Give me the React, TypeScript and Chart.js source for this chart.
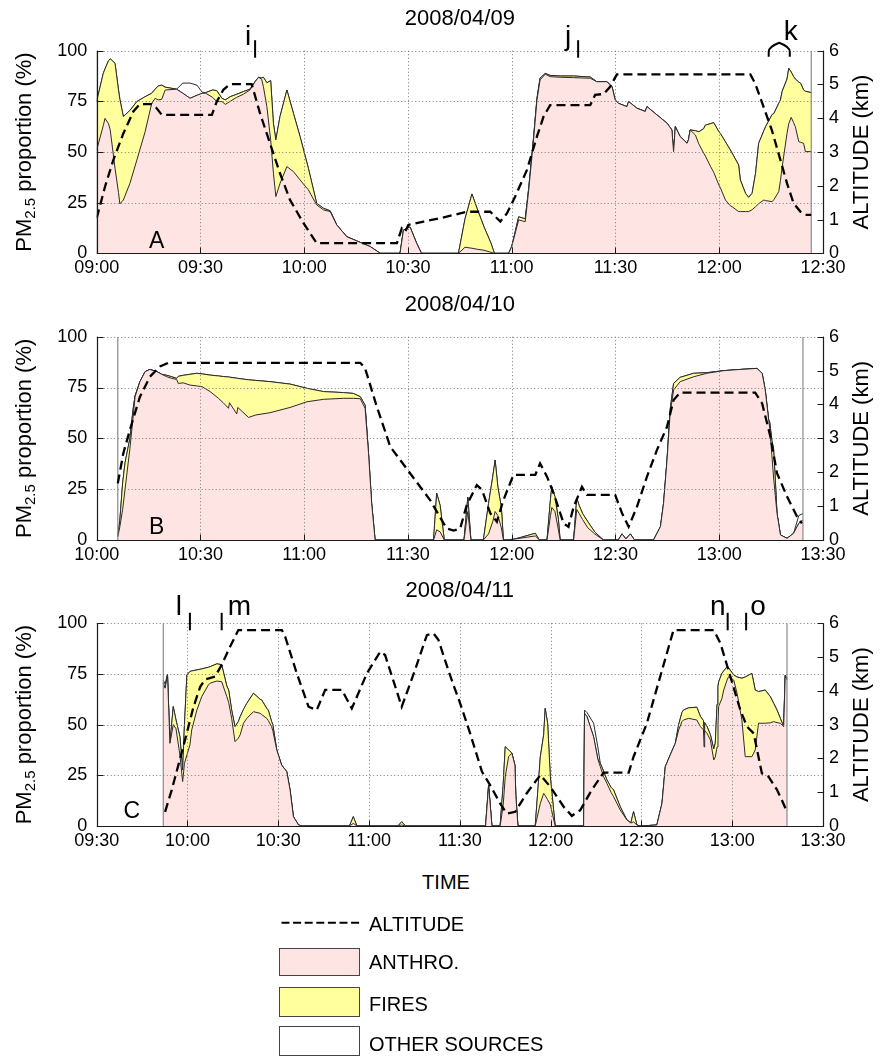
import React, { useEffect, useRef } from "react";
import { Chart, registerables } from "chart.js";

Chart.register(...registerables);

const FONT = "'Liberation Sans', Arial, Helvetica, sans-serif";
const PINK = "#FFE4E4";
const YELLOW = "#FFFF9E";
const EDGE = "#2b2b2b";

// ================= Panel A : 2008/04/09 (minutes after 09:00) =================
const dateA = "2008/04/09";
const timeA = [
  0, 1.9, 2.4, 3.4, 3.9, 5.3, 6.3, 6.7, 7.7, 9.6,
  11.6, 14, 15.9, 16.9, 17.8, 18.8, 19.8, 23.1, 24.9, 27,
  29, 30.5, 31.5, 33.5, 34.7, 36.2, 37.2, 38.6, 40.5, 42.4,
  44.3, 45.8, 46.8, 47.7, 48.2, 49.2, 50.3, 51.1, 51.8, 53,
  55, 56.9, 58.8, 61.2, 63.6, 65.6, 67.5, 69.4, 72.3, 75.2,
  79.1, 82, 87.7, 88.7, 90.6, 92.5, 93.9, 104.6, 106.5, 108.5,
  110, 112, 114, 115, 119.1, 120, 122, 123.9, 124.9, 126.3,
  127.3, 128.2, 129.7, 131.1, 134, 137.9, 142.7, 143.7, 144.6, 147.5,
  149, 149.9, 150.9, 153.3, 153.8, 156.2, 158.6, 159.1, 162, 164.9,
  166.3, 166.8, 167.3, 168.7, 170.7, 171.1, 171.6, 173.1, 174.1, 175.5,
  176, 177.5, 178.4, 179.9, 180.3, 181.8, 183.2, 183.7, 185.6, 186.1,
  187.6, 188.5, 189.5, 190.5, 191.4, 192.9, 193.4, 195.3, 195.8, 197.2,
  197.7, 198.2, 199.6, 200.1, 200.8, 201.5, 202, 203, 203.5, 204.4,
  204.9, 206.6,
];
const anthroA = [
  51, 63, 66.6, 64, 61, 42, 30, 24.4, 26.3, 34.5,
  46, 60, 74, 76.5, 75.7, 76, 80.6, 81, 79, 76.5,
  78, 79, 79, 77, 74.9, 74.9, 73.5, 75, 77, 78.5,
  80.6, 84.7, 86.9, 85.9, 82.3, 72.4, 56, 39.5, 28, 34.5,
  42.8, 40.3, 36.2, 31.3, 23.9, 21.4, 20.6, 14, 8.2, 6.1,
  3.3, 0, 0, 11.5, 13, 5, 0, 0, 3, 2.5,
  2, 1.5, 0.5, 0, 0, 3.3, 16.5, 15.6, 31, 56,
  75.7, 85.6, 88.4, 87.2, 86.9, 86.7, 86.4, 85.5, 84.7, 84.7,
  82.3, 75.7, 74, 72.4, 74.9, 71.6, 70, 72.4, 68.3, 64.2,
  60.9, 50.2, 62.5, 57.6, 54.3, 56, 60.9, 58.4, 54, 49.4,
  48, 42.8, 40, 33.7, 32.5, 26.3, 23.5, 23, 20.6, 20.6,
  20.6, 20.6, 21.5, 23, 24.5, 26.3, 26, 25.5, 26.5, 30.4,
  36, 42.8, 59.2, 64, 67.1, 64.5, 62.5, 55.1, 54.8, 54.3,
  50.2, 50.2,
];
const firesA = [
  24, 25.8, 24.4, 31, 35, 51.8, 50.6, 51.6, 41.2, 36,
  28.9, 17.3, 5, 4.5, 6.9, 7, 1.4, 0, 0, 0,
  0, 0, 0.3, 3.6, 5.4, 1.6, 2.2, 2.3, 1.5, 1.3,
  0.4, 0, 0, 0.6, 4.6, 11.8, 29.2, 24.5, 28, 33,
  37.8, 28.7, 21.4, 10.7, 0.8, 0.8, 0.4, 0, 0, 0,
  0, 0, 0, 0, 0, 0, 0, 0, 14, 26.8,
  20, 11.5, 4.5, 0, 0, 0, 1.5, 1.4, 1, 1,
  0.8, 0.9, 0.4, 0.6, 0.6, 0.8, 0.6, 0.3, 0, 0,
  0, 0, 0, 0, 0, 0, 0, 0, 0, 0,
  0, 0, 0, 0, 0, 0, 0, 2.1, 6, 12.1,
  15.3, 21.2, 24.5, 26.3, 26.7, 28.7, 27.5, 26.5, 23, 15.6,
  9, 7, 8.1, 16.5, 29.8, 34.2, 36.5, 43, 42.5, 43.6,
  39.7, 37.2, 26.8, 27.3, 22.4, 22.7, 23.5, 29.4, 29.2, 26.3,
  29.8, 29.1,
];
const otherA = [
  0, 0, 0, 0, 0, 0, 0, 0, 0, 0,
  0, 0, 0, 0, 0, 0, 0, 0, 5, 7.5,
  5, 0.5, 0, 0, 0, 0, 0, 0, 0, 0,
  0, 0, 0, 0, 0, 0, 0, 0, 0, 0,
  0, 0, 0, 0, 0, 0, 0, 0, 0, 0,
  0, 0, 0, 0, 0, 0, 0, 0, 0, 0,
  0, 0, 0, 0, 0, 0, 0, 0, 0, 0,
  0, 0, 0, 0, 0, 0, 0, 0, 0, 0,
  0, 0, 0, 0, 0, 0, 0, 0, 0, 0,
  0, 0, 0, 0, 0, 0, 0, 0, 0, 0,
  0, 0, 0, 0, 0, 0, 0, 0, 0, 0,
  0, 0, 0, 0, 0, 0, 0, 0, 0, 0,
  0, 0, 0, 0, 0, 0, 0, 0, 0, 0,
  0, 0,
];
const altTimeA = [
  0, 2.4, 4.8, 7.7, 10.6, 12.5, 15.9, 17.4, 18.8, 33.3,
  34.7, 36.6, 38.6, 44.8, 45.3, 47.2, 50.1, 53, 55.9, 59.8,
  63.6, 86.8, 88.2, 89.2, 90.1, 94.5, 99.3, 105.1, 107, 113.8,
  116.7, 118.6, 121, 124.4, 127.3, 129.2, 131.1, 142.7, 144.1, 146.6,
  148.5, 150.4, 189, 190.4, 192.8, 195.2, 197.7, 199.6, 201.5, 203.5,
  204.9, 206.6,
];
const altKmA = [
  1.04, 1.97, 2.76, 3.55, 4.2, 4.42, 4.42, 4.29, 4.1, 4.1,
  4.49, 4.84, 5.01, 5.01, 4.84, 4.15, 3.26, 2.37, 1.58, 0.89,
  0.3, 0.3, 0.74, 0.64, 0.84, 0.94, 1.04, 1.18, 1.23, 1.23,
  0.94, 1.18, 1.68, 2.47, 3.46, 4.05, 4.39, 4.39, 4.69, 4.72,
  4.94, 5.3, 5.3, 5.03, 4.34, 3.65, 2.76, 2.07, 1.48, 1.23,
  1.14, 1.14,
];

// ================= Panel B : 2008/04/10 (minutes after 10:00) =================
const dateB = "2008/04/10";
const timeB = [
  6.1, 6.7, 7.5, 8.2, 9.6, 10.5, 11.1, 12.5, 14, 15.4,
  17.4, 18.8, 20.3, 21.7, 23.1, 23.6, 25, 27, 28.9, 30.5,
  32.8, 35.2, 36.6, 38.1, 38.4, 40.5, 40.8, 43.9, 46, 50.1,
  55.9, 60.8, 65.6, 71.4, 74.2, 76.2, 77.6, 78.6, 79.5, 80.5,
  97.4, 98.3, 99.3, 100.5, 106.2, 107.3, 108.2, 111.8, 113.3, 114.5,
  115.2, 116, 117, 117.6, 118.6, 121, 126.8, 128, 130.2, 131.2,
  131.6, 132.5, 133.5, 134, 137.9, 138.8, 139.5, 140.5, 142, 144,
  146.5, 150.8, 151.9, 153, 154.3, 155.5, 161, 163, 163.9, 164.9,
  165.8, 166.8, 168.7, 172.6, 176.4, 181.3, 186.1, 190.9, 192.4, 193.3,
  194.3, 194.6, 195.2, 195.7, 196.2, 196.7, 197.7, 199.6, 201.5, 203,
  204.2,
];
const anthroB = [
  1.6, 6.6, 15, 25, 45, 60, 70.5, 77.9, 82.8, 83.9,
  82.8, 81.5, 80.3, 79.5, 79, 77, 77.3, 76.2, 75.8, 75.4,
  73, 69.7, 67.5, 64.8, 67.5, 62, 65.2, 60.3, 61.5, 62.6,
  65.2, 68, 69.2, 69.7, 69.7, 69.5, 64.8, 42.6, 18, 0,
  0, 5, 4, 0, 0, 14, 0, 0, 3, 9,
  14, 12, 6, 0, 0, 0.5, 2, 0, 0, 12,
  16, 14, 5, 0, 0, 15, 13, 10, 6, 3,
  0, 0, 3, 0.5, 3, 0, 0, 6.6, 18, 39.3,
  62.3, 73.8, 77.9, 80.3, 82, 83.3, 83.9, 84.4, 82, 73.8,
  59, 55, 42, 31, 22, 13.1, 2.5, 0.8, 3.3, 8.2,
  9.8,
];
const firesB = [
  0, 3.2, 13, 13, 5, 4, 0.5, 0, 0, 0,
  0, 0, 0.7, 0.8, 0.5, 3.5, 3.7, 5.3, 6.2, 6.3,
  8.1, 11, 12.9, 15.4, 12.6, 17.6, 14.3, 18.5, 17, 15.3,
  11.5, 6.6, 3.8, 2.8, 2.4, 1, 1.6, 0, 0, 0,
  0, 18, 13, 0, 0, 7, 0, 0, 15, 22,
  25.3, 14, 10, 0, 0, 0, 1.3, 0, 0, 8,
  10.2, 7.3, 5, 0, 0, 5.5, 4, 3, 3, 1,
  0, 0, 0, 0, 0, 0, 0, 0, 0, 0,
  1.7, 3.2, 2.1, 1.7, 0.3, 0, 0, 0, 0, 0,
  0, 3, 7, 14, 8, 0, 0, 0, 0, 0,
  0,
];
const otherB = [
  0, 0, 0, 0, 0, 0, 0, 0, 0, 0,
  0, 0, 0, 0, 0, 0, 0, 0, 0, 0,
  0, 0, 0, 0, 0, 0, 0, 0, 0, 0,
  0, 0, 0, 0, 0, 0, 0, 0, 0, 0,
  0, 0, 0, 0, 0, 0, 0, 0, 0, 0,
  0, 0, 0, 0, 0, 0, 0, 0, 0, 0,
  0, 0, 0, 0, 0, 0, 0, 0, 0, 0,
  0, 0, 0, 0, 0, 0, 0, 0, 0, 0,
  0, 0, 0, 0, 0, 0, 0, 0, 0, 0,
  0, 0, 0, 0, 0, 0, 0, 0, 0, 3.8,
  3.2,
];
const altTimeB = [
  6.1, 7.7, 9.6, 12.5, 15.4, 18.3, 20.7, 76.2, 77.6, 81,
  84.9, 90.6, 96.4, 100.3, 101.2, 103.2, 105.1, 107, 109.9, 111.4,
  113.8, 115.7, 117.6, 120.5, 126.8, 128.2, 130.2, 132.1, 135, 136.4,
  137.9, 140.3, 141.7, 149.9, 151.9, 153.8, 156.2, 159.1, 162, 164.9,
  166.8, 168.7, 190.4, 192.4, 194.8, 196.7, 199.6, 202.5, 203.9,
];
const altKmB = [
  1.67, 2.56, 3.25, 4.23, 4.82, 5.12, 5.23, 5.23, 5.07, 3.93,
  2.75, 1.97, 1.18, 0.49, 0.34, 0.28, 0.34, 1.03, 1.62, 1.48,
  0.79, 0.54, 1.18, 1.92, 1.92, 2.26, 1.87, 1.38, 0.49, 0.39,
  0.98, 1.57, 1.33, 1.33, 0.79, 0.39, 0.98, 1.87, 2.66, 3.34,
  4.13, 4.35, 4.35, 4.03, 3.05, 1.97, 1.28, 0.69, 0.49,
];

// ================= Panel C : 2008/04/11 (minutes after 09:30) =================
const dateC = "2008/04/11";
const timeC = [
  22, 22.6, 23.4, 24.2, 25.3, 26.2, 27.5, 28.4, 29, 29.8,
  30.8, 31.4, 33.1, 34.7, 36.9, 37.5, 39.7, 41.3, 43, 43.6,
  44.6, 45.7, 46.8, 47.4, 48.5, 49.6, 51.8, 54, 54.5, 56.2,
  56.7, 57.8, 58.2, 59.5, 61.1, 62.8, 63.9, 65, 66.7, 68,
  83.5, 84.8, 86, 99.5, 100.8, 102, 128.5, 129.5, 130.6, 133.3,
  134.3, 135, 136.1, 137.2, 138.2, 138.5, 139.2, 144.9, 146.6, 147.7,
  148.2, 149, 149.9, 151.5, 160.9, 161.2, 162, 164.2, 165.6, 166.4,
  167.5, 168.6, 170, 170.8, 173, 175.2, 176.5, 177.4, 178.5, 179.6,
  185.1, 186.8, 187.9, 189.5, 191.2, 192.3, 193.4, 193.9, 195.6, 198.3,
  199.5, 200.5, 200.7, 200.9, 201.7, 202.8, 203.9, 204.4, 205, 205.3,
  205.5, 206.6, 207.2, 208.3, 208.8, 210.5, 211.6, 213.2, 214.3, 216.5,
  217.6, 218.7, 220.9, 222.6, 223.7, 224.8, 225.9, 227, 227.5, 228.1,
];
const anthroC = [
  70.4, 68, 74.5, 40.8, 50, 48, 35, 21.9, 30.9, 35,
  40, 47.4, 57.2, 63.8, 69.6, 70.5, 71.5, 71.2, 63.8, 61,
  53.1, 41.6, 43.3, 45, 50.7, 53.1, 56.4, 55.6, 55, 53.1,
  52, 49, 47, 37.5, 30.1, 26.8, 17.8, 4.6, 0.5, 0,
  0, 1.3, 0, 0, 0.5, 0, 0, 20.2, 0, 0,
  10, 24.3, 34.2, 35.9, 30, 15, 0, 0, 11.2, 16.1,
  15, 13, 10.5, 0, 0, 55.6, 54, 44, 33, 29.3,
  24.3, 21, 16.5, 14.5, 7.9, 3, 1.5, 2, 0.5, 0,
  0.5, 11.2, 29.3, 35, 40.8, 47.4, 51.5, 52.3, 53.1, 52.3,
  49, 47.4, 39, 47, 45.7, 42.4, 32.6, 34, 39, 50,
  58.9, 63, 67.1, 72, 73.7, 72, 65.5, 52.3, 34.2, 34.2,
  37.5, 50.7, 50.7, 50.9, 51.5, 51, 50.7, 49, 73.7, 72,
];
const firesC = [
  0, 0, 0, 0, 8.9, 4.3, 9, 5.7, 19.1, 39.5,
  36.2, 29.1, 19.8, 13.7, 8.7, 8.1, 8.5, 8.4, 5.2, 6.1,
  4.1, 7.4, 8.2, 8.9, 6.8, 7.4, 9.1, 6.9, 7.2, 4.9,
  5.2, 2.5, 3, 0, 0, 0, 0, 0, 0, 0,
  0, 3.3, 0, 0, 1.6, 0, 0, 0, 0, 0,
  10, 14.8, 3.3, 0.1, 0, 0, 0, 0, 23, 28.9,
  43, 37.7, 13.8, 0, 0, 0, 0, 0, 0, 1.7,
  2.7, 1.7, 2.5, 3.3, 1.6, 0, 0, 5.1, 0, 0,
  0, 0, 0, 0, 0, 2.6, 4.5, 4.9, 5.2, 6.3,
  5, 4.6, 6, 4, 3.3, 2.6, 5.4, 6.8, 21, 18.8,
  12.1, 12.3, 9.4, 6.6, 4.3, 2.5, 8, 20.6, 39.3, 41.1,
  29.6, 15.6, 16.4, 12.9, 9, 6.2, 2.4, 0, 0.8, 0.9,
];
const otherC = [
  1.6, 2, 0.5, 0, 0, 0, 0, 0, 0, 0,
  0, 0, 0, 0, 0, 0, 0, 0, 0, 0,
  0, 0, 0, 0, 0, 0, 0, 0, 0, 0,
  0, 0, 0, 0, 0, 0, 0, 0, 0, 0,
  0, 0, 0, 0, 0, 0, 0, 0, 0, 0,
  0, 0, 0, 0, 0, 0, 0, 0, 0, 0,
  0, 0, 0, 0, 0, 1.6, 2, 6.7, 6, 0,
  0, 0, 0, 0, 0, 0, 0, 0, 0, 0,
  0, 0, 0, 0, 0, 0, 0, 0, 0, 0,
  0, 0, 0, 0, 0, 0, 0, 0, 0, 0,
  0, 0, 0, 0, 0, 0, 0, 0, 0, 0,
  0, 0, 0, 0, 0, 0, 0, 0, 0, 0,
];
const altTimeC = [
  22.6, 24.8, 27, 29.2, 32, 34.2, 35.8, 39.1, 41.3, 44.1,
  46.8, 61.2, 62.3, 66.1, 70, 72.7, 75.5, 81, 84.3, 89.3,
  93.7, 95.3, 100.8, 105.2, 109.1, 111.3, 112.9, 116.8, 120.1, 123.4,
  127.3, 130, 133.3, 135.5, 138.3, 142.1, 146.6, 149.9, 154.3, 157,
  159.8, 163.6, 167.5, 175.8, 177.4, 181.8, 186.2, 190.6, 203.9, 206.1,
  209.4, 212.7, 214.9, 217.1, 219.8, 222, 224.8, 226.4, 228.1,
];
const altKmC = [
  0.42, 1.07, 1.81, 2.55, 3.53, 4.12, 4.34, 4.42, 4.77, 5.31,
  5.8, 5.8, 5.6, 4.52, 3.53, 3.43, 4.03, 4.03, 3.48, 4.52,
  5.16, 5.06, 3.53, 4.62, 5.65, 5.7, 5.51, 4.45, 3.63, 2.74,
  1.61, 1.21, 0.67, 0.37, 0.42, 0.97, 1.51, 1.16, 0.57, 0.3,
  0.47, 1.07, 1.58, 1.58, 2.05, 3.04, 4.42, 5.8, 5.8, 5.41,
  4.42, 3.43, 2.94, 2.74, 1.56, 1.46, 1.07, 0.77, 0.42,
];

// event markers (minutes after each panel's start)
const eventTimesA = [45.8, 139.2];
const eventLabelsA = ["i", "j"];
const braceTimesA = [194.3, 200.4];
const braceLabelA = "k";
const eventTimesC = [30.8, 41.3, 208.5, 214.6];
const eventLabelsC = ["l", "m", "n", "o"];

// tick labels
const pmTicks = [0, 25, 50, 75, 100];
const altTicks = [0, 1, 2, 3, 4, 5, 6];
const legendLabels = ["ALTITUDE", "ANTHRO.", "FIRES", "OTHER SOURCES"];

interface EventDef { t: number; label: string; dx: number; align: CanvasTextAlign }
interface PanelDef {
  date: string; start: number; span: number;
  times: number[]; anthro: number[]; fires: number[]; other: number[];
  altTimes: number[]; alt: number[];
  dataStart: number; dataEnd: number;
  letter: string; letterDx: number; letterDy: number;
  canvasTop: number; plotTop: number; plotBottom: number;
  events: EventDef[]; labelBase: number;
  brace?: { t0: number; t1: number; label: string };
}

const CANVAS_H = 290;

const panels: PanelDef[] = [
  {
    date: dateA, start: 540, span: 210,
    times: timeA, anthro: anthroA, fires: firesA, other: otherA,
    altTimes: altTimeA, alt: altKmA,
    dataStart: timeA[0], dataEnd: timeA[timeA.length - 1],
    letter: "A", letterDx: 60, letterDy: -12,
    canvasTop: 0, plotTop: 50.7, plotBottom: 253.3,
    events: [
      { t: eventTimesA[0], label: eventLabelsA[0], dx: -7, align: "center" },
      { t: eventTimesA[1], label: eventLabelsA[1], dx: -10, align: "center" },
    ],
    labelBase: -6,
    brace: { t0: braceTimesA[0], t1: braceTimesA[1], label: braceLabelA },
  },
  {
    date: dateB, start: 600, span: 210,
    times: timeB, anthro: anthroB, fires: firesB, other: otherB,
    altTimes: altTimeB, alt: altKmB,
    dataStart: timeB[0], dataEnd: timeB[timeB.length - 1],
    letter: "B", letterDx: 60, letterDy: -12,
    canvasTop: 286, plotTop: 336.7, plotBottom: 540,
    events: [], labelBase: -6,
  },
  {
    date: dateC, start: 570, span: 240,
    times: timeC, anthro: anthroC, fires: firesC, other: otherC,
    altTimes: altTimeC, alt: altKmC,
    dataStart: timeC[0], dataEnd: timeC[timeC.length - 1],
    letter: "C", letterDx: 35, letterDy: -14,
    canvasTop: 573, plotTop: 623.3, plotBottom: 826,
    events: [
      { t: eventTimesC[0], label: eventLabelsC[0], dx: -11, align: "center" },
      { t: eventTimesC[1], label: eventLabelsC[1], dx: 6, align: "left" },
      { t: eventTimesC[2], label: eventLabelsC[2], dx: -2, align: "right" },
      { t: eventTimesC[3], label: eventLabelsC[3], dx: 4, align: "left" },
    ],
    labelBase: -8,
  },
];

function fmtTime(v: number): string {
  const m = Math.round(v);
  const h = Math.floor(m / 60);
  const mm = m % 60;
  return `${String(h).padStart(2, "0")}:${String(mm).padStart(2, "0")}`;
}

function makeDecor(p: PanelDef) {
  return {
    id: "decor",
    beforeDatasetDraw(chart: any, args: any) {
      if (args.index !== 3) return;
      const { ctx, chartArea: ca, scales } = chart;
      ctx.save();
      ctx.strokeStyle = "#7a7a7a";
      ctx.lineWidth = 1;
      ctx.setLineDash([1, 2.5]);
      for (const tk of scales.x.ticks) {
        const x = Math.round(scales.x.getPixelForValue(tk.value)) + 0.5;
        ctx.beginPath(); ctx.moveTo(x, ca.top); ctx.lineTo(x, ca.bottom); ctx.stroke();
      }
      for (const tk of scales.y.ticks) {
        const y = Math.round(scales.y.getPixelForValue(tk.value)) + 0.5;
        ctx.beginPath(); ctx.moveTo(ca.left, y); ctx.lineTo(ca.right, y); ctx.stroke();
      }
      ctx.restore();
    },
    afterDraw(chart: any) {
      const { ctx, chartArea: ca, scales } = chart;
      const sx = scales.x, sy = scales.y, sy2 = scales.y2;
      ctx.save();
      ctx.setLineDash([]);
      ctx.strokeStyle = "#1a1a1a";
      ctx.lineWidth = 1.2;
      const L = Math.round(ca.left) + 0.5, R = Math.round(ca.right) + 0.5, B = Math.round(ca.bottom) + 0.5;
      ctx.beginPath();
      ctx.moveTo(L, ca.top); ctx.lineTo(L, B); ctx.lineTo(R, B); ctx.lineTo(R, ca.top);
      ctx.stroke();
      ctx.lineWidth = 1;
      for (const tk of sy.ticks) {
        const y = Math.round(sy.getPixelForValue(tk.value)) + 0.5;
        ctx.beginPath(); ctx.moveTo(L, y); ctx.lineTo(L + 6, y); ctx.stroke();
      }
      for (const tk of sy2.ticks) {
        const y = Math.round(sy2.getPixelForValue(tk.value)) + 0.5;
        ctx.beginPath(); ctx.moveTo(R, y); ctx.lineTo(R - 6, y); ctx.stroke();
      }
      for (const tk of sx.ticks) {
        const x = Math.round(sx.getPixelForValue(tk.value)) + 0.5;
        ctx.beginPath(); ctx.moveTo(x, B); ctx.lineTo(x, B - 6); ctx.stroke();
      }
      ctx.fillStyle = "#000";
      // title
      ctx.font = `22px ${FONT}`;
      ctx.textAlign = "center";
      ctx.textBaseline = "middle";
      ctx.fillText(p.date, (ca.left + ca.right) / 2, ca.top - 32.2);
      // panel letter
      ctx.font = `23px ${FONT}`;
      ctx.fillText(p.letter, ca.left + p.letterDx, ca.bottom + p.letterDy);
      // left y label with subscript
      const cy = (ca.top + ca.bottom) / 2;
      ctx.save();
      ctx.translate(24.5, cy);
      ctx.rotate(-Math.PI / 2);
      const f1 = `22px ${FONT}`, f2 = `15px ${FONT}`;
      ctx.font = f1;
      const wPM = ctx.measureText("PM").width;
      const rest = " proportion (%)";
      const wRest = ctx.measureText(rest).width;
      ctx.font = f2;
      const wSub = ctx.measureText("2.5").width;
      let cx = -(wPM + wSub + wRest) / 2;
      ctx.textAlign = "left";
      ctx.textBaseline = "middle";
      ctx.font = f1; ctx.fillText("PM", cx, 0); cx += wPM;
      ctx.font = f2; ctx.fillText("2.5", cx, 6); cx += wSub;
      ctx.font = f1; ctx.fillText(rest, cx, 0);
      ctx.restore();
      // right y label
      ctx.save();
      ctx.translate(862, cy);
      ctx.rotate(-Math.PI / 2);
      ctx.font = `22px ${FONT}`;
      ctx.textAlign = "center";
      ctx.textBaseline = "middle";
      ctx.fillText("ALTITUDE (km)", 0, 0);
      ctx.restore();
      // event markers
      ctx.lineWidth = 2;
      ctx.strokeStyle = "#000";
      ctx.font = `28px ${FONT}`;
      ctx.textBaseline = "alphabetic";
      for (const ev of p.events) {
        const x = sx.getPixelForValue(p.start + ev.t);
        ctx.beginPath(); ctx.moveTo(x, ca.top - 10.5); ctx.lineTo(x, ca.top + 7); ctx.stroke();
        ctx.textAlign = ev.align;
        ctx.fillText(ev.label, x + ev.dx, ca.top + p.labelBase);
      }
      if (p.brace) {
        const x0 = sx.getPixelForValue(p.start + p.brace.t0);
        const x1 = sx.getPixelForValue(p.start + p.brace.t1);
        const xm = (x0 + x1) / 2;
        const t = ca.top;
        ctx.beginPath();
        ctx.moveTo(x0, t + 6); ctx.lineTo(x0, t + 1);
        ctx.quadraticCurveTo(x0, t - 4, xm, t - 8);
        ctx.quadraticCurveTo(x1, t - 4, x1, t + 1);
        ctx.lineTo(x1, t + 6);
        ctx.stroke();
        ctx.textAlign = "center";
        ctx.fillText(p.brace.label, x1 + 1, t - 11);
      }
      ctx.restore();
    },
  };
}

function PanelChart({ p }: { p: PanelDef }) {
  const ref = useRef<HTMLCanvasElement | null>(null);
  useEffect(() => {
    const canvas = ref.current;
    if (!canvas) return;
    const a = p.times.map((_, i) => p.anthro[i] ?? 0);
    const af = a.map((v, i) => v + (p.fires[i] ?? 0));
    const tot = af.map((v, i) => v + (p.other[i] ?? 0));
    const pts = (ys: number[]) => p.times.map((t, i) => ({ x: p.start + t, y: ys[i] }));
    const common = { pointRadius: 0, pointHoverRadius: 0, borderWidth: 1, borderColor: EDGE, tension: 0, yAxisID: "y", order: 1 };
    const tickFont = { family: FONT, size: 18 };
    const chart = new Chart(canvas, {
      type: "line",
      data: {
        datasets: [
          { ...common, label: legendLabels[1], data: pts(a), fill: "origin", backgroundColor: PINK },
          { ...common, label: legendLabels[2], data: pts(af), fill: "-1", backgroundColor: YELLOW },
          { ...common, label: legendLabels[3], data: pts(tot), fill: "-1", backgroundColor: "#ffffff" },
          {
            label: legendLabels[0],
            data: p.altTimes.map((t, i) => ({ x: p.start + t, y: p.alt[i] })),
            yAxisID: "y2", borderColor: "#000", borderWidth: 2.3, borderDash: [9, 5],
            fill: false, pointRadius: 0, tension: 0, order: -1,
          },
          {
            label: "start", data: [{ x: p.start + p.dataStart, y: 0 }, { x: p.start + p.dataStart, y: 100 }],
            yAxisID: "y", borderColor: "#8a8a8a", borderWidth: 1.2, fill: false, pointRadius: 0, order: 0,
          },
          {
            label: "end", data: [{ x: p.start + p.dataEnd, y: 0 }, { x: p.start + p.dataEnd, y: 100 }],
            yAxisID: "y", borderColor: "#8a8a8a", borderWidth: 1.2, fill: false, pointRadius: 0, order: 0,
          },
        ] as any,
      },
      options: {
        responsive: false,
        animation: false,
        events: [],
        layout: { padding: { top: p.plotTop - p.canvasTop, left: 0, right: 0, bottom: 0 } },
        plugins: { legend: { display: false }, tooltip: { enabled: false }, title: { display: false } },
        scales: {
          x: {
            type: "linear", min: p.start, max: p.start + p.span,
            grid: { display: false, drawTicks: false }, border: { display: false },
            ticks: { stepSize: 30, callback: (v: any) => fmtTime(Number(v)), font: tickFont, color: "#000", padding: 4, maxRotation: 0, autoSkip: false },
            afterFit: (s: any) => { s.height = p.canvasTop + CANVAS_H - p.plotBottom; },
          },
          y: {
            type: "linear", position: "left", min: pmTicks[0], max: pmTicks[pmTicks.length - 1],
            grid: { display: false, drawTicks: false }, border: { display: false },
            ticks: { stepSize: pmTicks[1] - pmTicks[0], font: tickFont, color: "#000", padding: 9.4 },
            afterFit: (s: any) => { s.width = 96.7; },
          },
          y2: {
            type: "linear", position: "right", min: altTicks[0], max: altTicks[altTicks.length - 1],
            grid: { display: false, drawTicks: false }, border: { display: false },
            ticks: { stepSize: altTicks[1] - altTicks[0], font: tickFont, color: "#000", padding: 6 },
            afterFit: (s: any) => { s.width = 880 - 823; },
          },
        },
      } as any,
      plugins: [makeDecor(p)],
    });
    return () => chart.destroy();
  }, [p]);
  return (
    <canvas
      ref={ref}
      width={880}
      height={CANVAS_H}
      style={{ position: "absolute", left: 0, top: p.canvasTop, width: 880, height: CANVAS_H }}
    />
  );
}

const textStyle: React.CSSProperties = {
  position: "absolute", fontFamily: FONT, fontSize: 20, lineHeight: "23px", color: "#000", whiteSpace: "nowrap",
};

export default function App() {
  return (
    <div style={{ position: "absolute", left: 0, top: 0, width: 880, height: 1057, background: "#fff", overflow: "hidden" }}>
      {panels.map((p) => (
        <PanelChart key={p.date} p={p} />
      ))}
      <div style={{ ...textStyle, left: 346, top: 870.5, width: 200, textAlign: "center" }}>TIME</div>
      <svg style={{ position: "absolute", left: 0, top: 0 }} width={880} height={1057}>
        <line x1={281.5} y1={922.7} x2={362} y2={922.7} stroke="#000" strokeWidth={2} strokeDasharray="8 3.6" />
      </svg>
      <div style={{ ...textStyle, left: 369, top: 913 }}>{legendLabels[0]}</div>
      <div style={{ position: "absolute", left: 279.3, top: 947.7, width: 80.7, height: 28.3, boxSizing: "border-box", border: "1px solid #444", background: PINK }} />
      <div style={{ ...textStyle, left: 369, top: 950.5 }}>{legendLabels[1]}</div>
      <div style={{ position: "absolute", left: 279.3, top: 987.3, width: 80.7, height: 29.4, boxSizing: "border-box", border: "1px solid #444", background: YELLOW }} />
      <div style={{ ...textStyle, left: 369, top: 992.5 }}>{legendLabels[2]}</div>
      <div style={{ position: "absolute", left: 279.3, top: 1026, width: 80.7, height: 29.7, boxSizing: "border-box", border: "1px solid #444", background: "#fff" }} />
      <div style={{ ...textStyle, left: 369, top: 1032.5 }}>{legendLabels[3]}</div>
    </div>
  );
}
